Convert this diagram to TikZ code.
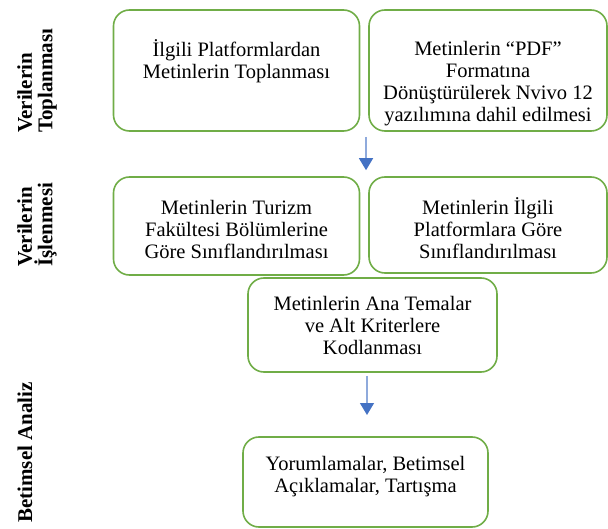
\documentclass[tikz,border=0pt]{standalone}
\usepackage{fontspec}
\setmainfont{Liberation Serif}
\usetikzlibrary{arrows.meta}
\definecolor{boxgreen}{RGB}{112,173,71}
\definecolor{arrowblue}{RGB}{68,114,196}
\definecolor{lineblue}{RGB}{143,170,220}

\begin{document}
\begin{tikzpicture}[x=1pt,y=-1pt,
    box/.style={draw=boxgreen,line width=1.6pt,rounded corners=16pt},
    txt/.style={align=center,inner sep=0pt,font=\fontsize{20.5}{22}\selectfont},
    side/.style={rotate=90,align=left,anchor=west,inner sep=0pt,
      font=\fontsize{21}{20.5}\selectfont\bfseries},
    flow/.style={lineblue,line width=1.4pt,
      -{Triangle[width=14pt,length=12pt,color=arrowblue]}}]
  \useasboundingbox (0,0) rectangle (608,529);
  % side titles
  \node[side] (l1) at (37,133) {Verilerin\\Toplanması};
  \node[side] (l2) at (37,267) {Verilerin\\İşlenmesi};
  \node[side] (l3) at (25,523) {Betimsel Analiz};
  % boxes
  \node[box,minimum width=246,minimum height=121] (b1) at (236.5,70.5) {};
  \node[box,minimum width=238,minimum height=121] (b2) at (488,70.5) {};
  \node[box,minimum width=246,minimum height=98] (b3) at (236.5,226) {};
  \node[box,minimum width=238,minimum height=96] (b4) at (488,225) {};
  \node[box,minimum width=249,minimum height=94] (b5) at (372.5,325) {};
  \node[box,minimum width=245,minimum height=90] (b6) at (365.5,482) {};
  % texts
  \node[txt] (t1) at (236.5,61) {İlgili Platformlardan\\Metinlerin Toplanması};
  \node[txt] (t2) at (488,84) {Metinlerin “PDF”\\Formatına\\Dönüştürülerek Nvivo 12\\yazılımına dahil edilmesi};
  \node[txt] (t3) at (236.5,229) {Metinlerin Turizm\\Fakültesi Bölümlerine\\Göre Sınıflandırılması};
  \node[txt] (t4) at (488,228) {Metinlerin İlgili\\Platformlara Göre\\Sınıflandırılması};
  \node[txt] (t5) at (372.5,325) {Metinlerin Ana Temalar\\ve Alt Kriterlere\\Kodlanması};
  \node[txt] (t6) at (365.5,477) {Yorumlamalar, Betimsel\\Açıklamalar, Tartışma};
  % arrows
  \coordinate (a1) at (366,137);
  \coordinate (a2) at (367,415);
  \draw[flow,shorten >=6pt] (a1) -- (a1 |- b3.north);
  \draw[flow,shorten <=3pt] (a2 |- b5.south) -- (a2);
\end{tikzpicture}
\end{document}
